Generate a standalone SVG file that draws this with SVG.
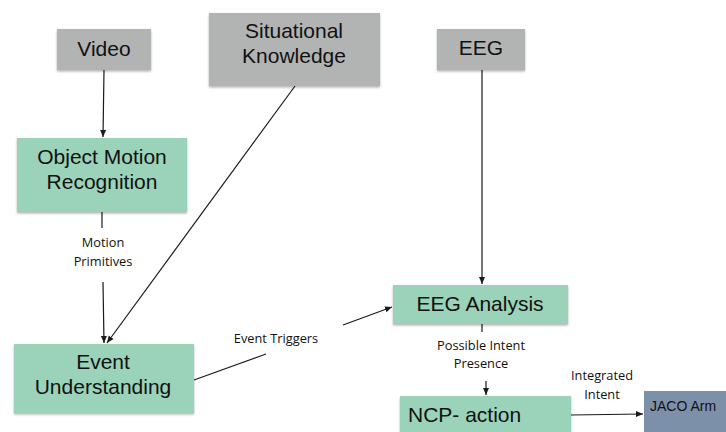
<svg xmlns="http://www.w3.org/2000/svg" width="726" height="432" viewBox="0 0 726 432">
<style>
.gray{fill:#b2b4b4}
.green{fill:#9ad3b9}
.jaco{fill:#7d90aa}
.nt{font-family:"Liberation Sans",Arial,sans-serif;font-size:21px;fill:#111}
.lt{font-family:"Open Sans","Noto Sans",sans-serif;font-size:12.8px;fill:#111}
.ln{stroke:#1a1a1a;stroke-width:1.2;fill:none}
</style>
<defs>
<filter id="sh" x="-10%" y="-10%" width="120%" height="130%">
<feDropShadow dx="0" dy="1.5" stdDeviation="1" flood-color="#000" flood-opacity="0.3"/>
</filter>
<marker id="ar" markerWidth="8" markerHeight="8" refX="7" refY="4" orient="auto" markerUnits="userSpaceOnUse">
<path d="M0,1 L7,4 L0,7 Z" fill="#1a1a1a"/>
</marker>
</defs>
<rect width="726" height="432" fill="#fff"/>
<g id="connectors">
<line class="ln" x1="104" y1="70" x2="103" y2="137" marker-end="url(#ar)"/>
<line class="ln" x1="102" y1="212" x2="102" y2="228"/>
<line class="ln" x1="103" y1="282" x2="104" y2="343" marker-end="url(#ar)"/>
<line class="ln" x1="295" y1="86" x2="107" y2="343" marker-end="url(#ar)"/>
<line class="ln" x1="194" y1="380" x2="266" y2="354"/>
<line class="ln" x1="343" y1="325" x2="392" y2="307" marker-end="url(#ar)"/>
<line class="ln" x1="482" y1="70" x2="482" y2="284" marker-end="url(#ar)"/>
<line class="ln" x1="482" y1="324" x2="482" y2="332"/>
<line class="ln" x1="486" y1="381" x2="486" y2="395" marker-end="url(#ar)"/>
<line class="ln" x1="571" y1="415" x2="643" y2="414" marker-end="url(#ar)"/>
<text class="lt" x="103" y="247" text-anchor="middle">Motion</text>
<text class="lt" x="103" y="266" text-anchor="middle">Primitives</text>
<text class="lt" x="276" y="343" text-anchor="middle">Event Triggers</text>
<text class="lt" x="481" y="350" text-anchor="middle">Possible Intent</text>
<text class="lt" x="481" y="368" text-anchor="middle">Presence</text>
<text class="lt" x="602" y="380" text-anchor="middle">Integrated</text>
<text class="lt" x="602" y="399" text-anchor="middle">Intent</text>
</g>
<g id="video">
<rect class="gray" x="57" y="29" width="94" height="41" filter="url(#sh)"/>
<text class="nt" x="104" y="56" text-anchor="middle">Video</text>
</g>
<g id="situational">
<rect class="gray" x="209" y="13" width="171" height="73" filter="url(#sh)"/>
<text class="nt" x="294" y="38" text-anchor="middle">Situational</text>
<text class="nt" x="294" y="63" text-anchor="middle">Knowledge</text>
</g>
<g id="eeg">
<rect class="gray" x="437" y="29" width="88" height="41" filter="url(#sh)"/>
<text class="nt" x="481" y="55" text-anchor="middle">EEG</text>
</g>
<g id="omr">
<rect class="green" x="17" y="138" width="170" height="74" filter="url(#sh)"/>
<text class="nt" x="102" y="164" text-anchor="middle">Object Motion</text>
<text class="nt" x="102" y="189" text-anchor="middle">Recognition</text>
</g>
<g id="event">
<rect class="green" x="14" y="344" width="180" height="69" filter="url(#sh)"/>
<text class="nt" x="103" y="369" text-anchor="middle">Event</text>
<text class="nt" x="103" y="394" text-anchor="middle">Understanding</text>
</g>
<g id="eeganalysis">
<rect class="green" x="393" y="285" width="175" height="39" filter="url(#sh)"/>
<text class="nt" x="480" y="311" text-anchor="middle">EEG Analysis</text>
</g>
<g id="ncp">
<rect class="green" x="400" y="396" width="171" height="45" filter="url(#sh)"/>
<text class="nt" x="408" y="422">NCP- action</text>
</g>
<g id="jaco">
<rect class="jaco" x="644" y="391" width="90" height="50"/>
<text x="650" y="411" style="font-family:'Liberation Sans',Arial,sans-serif;font-size:14px;fill:#111">JACO Arm</text>
</g>
</svg>
